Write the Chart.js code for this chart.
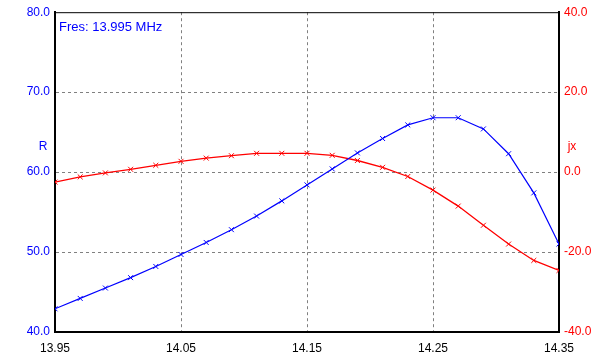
<!DOCTYPE html>
<html>
<head>
<meta charset="utf-8">
<script src="https://cdn.jsdelivr.net/npm/chart.js@4"></script>
<style>
  html, body { margin: 0; padding: 0; background: #fff; }
  #wrap { width: 607px; height: 360px; }
</style>
</head>
<body>
<div id="wrap"><canvas id="impChart" width="607" height="360"></canvas></div>
<script>
// frequency points (MHz)
var freqs = [13.95, 13.97, 13.99, 14.01, 14.03, 14.05, 14.07, 14.09, 14.11, 14.13, 14.15,
             14.17, 14.19, 14.21, 14.23, 14.25, 14.27, 14.29, 14.31, 14.33, 14.35];
var rValues = [42.9, 44.2, 45.5, 46.8, 48.2, 49.7, 51.2, 52.8, 54.5, 56.4, 58.4,
               60.4, 62.4, 64.2, 65.9, 66.8, 66.8, 65.4, 62.3, 57.4, 51.0];
var jxValues = [-2.5, -1.2, -0.2, 0.7, 1.7, 2.7, 3.5, 4.1, 4.7, 4.7, 4.7,
                4.2, 2.9, 1.2, -1.1, -4.5, -8.5, -13.3, -18.0, -22.1, -24.6];
var xTicks = [13.95, 14.05, 14.15, 14.25, 14.35];
var fresLabel = 'Fres: 13.995 MHz';

var FONT = 'Arial, "Liberation Sans", sans-serif';

function toPoints(xs, ys) {
    let pts = new Array(xs.length);
    for (var i = 0; i < xs.length; i++)
        pts[i] = { x: xs[i], y: ys[i] };
    return pts;
}

var framePlugin = {
    id: 'frame',
    afterDraw: function (chart) {
        let ctx = chart.ctx;
        let a = chart.chartArea;
        ctx.save();
        ctx.strokeStyle = '#000';
        ctx.lineWidth = 1;
        ctx.beginPath();
        ctx.moveTo(a.left, a.top + 0.5);
        ctx.lineTo(a.right, a.top + 0.5);
        ctx.stroke();

        ctx.font = '13px ' + FONT;
        ctx.textBaseline = 'middle';
        ctx.fillStyle = '#0000ff';
        ctx.textAlign = 'left';
        ctx.fillText(fresLabel, a.left + 4, a.top + 15);

        ctx.font = '12px ' + FONT;
        ctx.textAlign = 'center';
        ctx.fillText('R', a.left - 12, 147);
        ctx.fillStyle = '#ff0000';
        ctx.fillText('jx', a.right + 13, 147);
        ctx.restore();
    }
};

var ctx = document.getElementById('impChart').getContext('2d');
var impChart = new Chart(ctx, {
    type: 'line',
    data: {
        datasets: [{
            label: 'R',
            data: toPoints(freqs, rValues),
            yAxisID: 'y',
            borderColor: '#0000ff',
            borderWidth: 1.2,
            pointStyle: 'crossRot',
            pointRadius: 3.5,
            pointBorderColor: '#0000ff',
            pointBorderWidth: 1,
            tension: 0,
            fill: false
        }, {
            label: 'jx',
            data: toPoints(freqs, jxValues),
            yAxisID: 'y1',
            borderColor: '#ff0000',
            borderWidth: 1.3,
            pointStyle: 'crossRot',
            pointRadius: 3.5,
            pointBorderColor: '#ff0000',
            pointBorderWidth: 1,
            tension: 0,
            fill: false
        }]
    },
    options: {
        responsive: false,
        animation: false,
        layout: { padding: { top: 10, left: 0, right: 0, bottom: 0 } },
        plugins: {
            legend: { display: false },
            tooltip: { enabled: false }
        },
        scales: {
            x: {
                type: 'linear',
                min: 13.95,
                max: 14.35,
                afterBuildTicks: function (scale) {
                    scale.ticks = xTicks.map(function (v) { return { value: v }; });
                },
                afterFit: function (scale) { scale.height = 28; },
                ticks: {
                    color: '#000',
                    font: { family: FONT, size: 12 },
                    padding: 9,
                    maxRotation: 0,
                    callback: function (v) { return Number(v).toFixed(2); }
                },
                grid: {
                    color: function (c) {
                        return (c.tick.value > 13.96 && c.tick.value < 14.34) ? '#808080' : 'rgba(0,0,0,0)';
                    },
                    drawTicks: false
                },
                border: { color: '#000', width: 2, dash: [3, 3] }
            },
            y: {
                position: 'left',
                min: 40,
                max: 80,
                ticks: {
                    stepSize: 10,
                    color: '#0000ff',
                    font: { family: FONT, size: 12 },
                    padding: 5,
                    callback: function (v) { return Number(v).toFixed(1); }
                },
                afterFit: function (scale) { scale.width = 55; },
                grid: {
                    color: function (c) {
                        return (c.tick.value > 40 && c.tick.value < 80) ? '#808080' : 'rgba(0,0,0,0)';
                    },
                    drawTicks: false
                },
                border: { color: '#000', width: 2, dash: [3, 3] }
            },
            y1: {
                position: 'right',
                min: -40,
                max: 40,
                ticks: {
                    stepSize: 20,
                    color: '#ff0000',
                    font: { family: FONT, size: 12 },
                    padding: 5,
                    callback: function (v) { return Number(v).toFixed(1); }
                },
                afterFit: function (scale) { scale.width = 48; },
                grid: { display: false, drawOnChartArea: false, drawTicks: false },
                border: { color: '#000', width: 2 }
            }
        }
    },
    plugins: [framePlugin]
});
</script>
</body>
</html>
